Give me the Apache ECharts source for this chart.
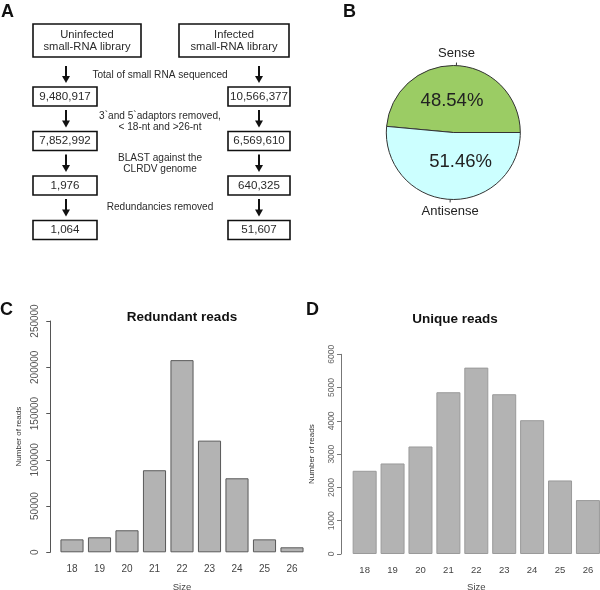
<!DOCTYPE html>
<html><head><meta charset="utf-8">
<script src="https://cdn.jsdelivr.net/npm/echarts@6/dist/echarts.min.js"></script>
<style>html,body{margin:0;padding:0;background:#fff}#c{width:600px;height:590px}</style>
</head><body><div id="c"></div>
<script>
// ---- data ----
const sizes = ['18','19','20','21','22','23','24','25','26'];
const redundantReads = [14000,16200,23800,88700,207700,120700,80000,14000,5400];
const uniqueReads = [2500,2720,3230,4860,5600,4800,4020,2210,1620];
const strandNames = ['Sense','Antisense'];
const strandPercents = [48.54, 51.46];
const libraryNames = ['Uninfected\nsmall-RNA library','Infected\nsmall-RNA library'];
const uninfectedCounts = ['9,480,917','7,852,992','1,976','1,064'];
const infectedCounts = ['10,566,377','6,569,610','640,325','51,607'];
const stepLabels = ['Total of small RNA sequenced','3`and 5`adaptors removed,\n< 18-nt and >26-nt','BLAST against the\nCLRDV genome','Redundancies removed'];
const redundantTicks = {min:0,max:250000,interval:50000};
const uniqueTicks = {min:0,max:6000,interval:1000};

// ---- layout ----
const FF = 'Liberation Sans, Arial, sans-serif';
const TXT = '#2a2a2a';
const rowCY = [96.5,141,185.5,230];
const boxH = 19;
const cols = [
  {big:{x:33,y:24,w:108,h:33}, x:33, w:64, cx:66, counts:uninfectedCounts},
  {big:{x:179,y:24,w:110,h:33}, x:228, w:62, cx:259, counts:infectedCounts}
];
const stepY = [75,121.5,164,207];
const graphics = [];
cols.forEach((c,ci)=>{
  graphics.push({type:'rect',shape:{x:c.big.x,y:c.big.y,width:c.big.w,height:c.big.h},style:{fill:'#fff',stroke:'#111',lineWidth:1.6}});
  graphics.push({type:'text',x:c.big.x+c.big.w/2,y:c.big.y+c.big.h/2,style:{text:libraryNames[ci],fill:TXT,font:'11.2px '+FF,textAlign:'center',textVerticalAlign:'middle',lineHeight:12}});
  c.counts.forEach((v,i)=>{
    const top = rowCY[i]-boxH/2;
    graphics.push({type:'rect',shape:{x:c.x,y:top,width:c.w,height:boxH},style:{fill:'#fff',stroke:'#111',lineWidth:1.6}});
    graphics.push({type:'text',x:c.x+c.w/2,y:rowCY[i],style:{text:v,fill:TXT,font:'11.6px '+FF,textAlign:'center',textVerticalAlign:'middle'}});
    const prevBottom = i===0 ? c.big.y+c.big.h : rowCY[i-1]+boxH/2;
    const y0 = prevBottom + (i===0?9:4);
    const tip = top - 4;
    graphics.push({type:'line',shape:{x1:c.cx,y1:y0,x2:c.cx,y2:tip-5},style:{stroke:'#111',lineWidth:2}});
    graphics.push({type:'polygon',shape:{points:[[c.cx-4,tip-7],[c.cx+4,tip-7],[c.cx,tip]]},style:{fill:'#111'}});
  });
});
stepLabels.forEach((s,i)=>{
  graphics.push({type:'text',x:160,y:stepY[i],style:{text:s,fill:TXT,font:'10.1px '+FF,textAlign:'center',textVerticalAlign:'middle',lineHeight:11}});
});
[['A',1,3],['B',343,3],['C',0,301],['D',306,301]].forEach(l=>{
  graphics.push({type:'text',x:l[1],y:l[2],style:{text:l[0],fill:'#111',font:'bold 18px '+FF}});
});

const chart = echarts.init(document.getElementById('c'),null,{renderer:'canvas'});
const pieCenter = [453.3,132.5];
chart.setOption({
  animation:false,
  textStyle:{fontFamily:FF},
  title:[
    {text:'Redundant reads',left:182,top:310,textAlign:'center',padding:0,textStyle:{fontSize:13.5,fontWeight:'bold',color:'#111',fontFamily:FF}},
    {text:'Unique reads',left:455,top:312,textAlign:'center',padding:0,textStyle:{fontSize:13.5,fontWeight:'bold',color:'#111',fontFamily:FF}}
  ],
  graphic:graphics,
  grid:[
    {left:58.25,width:247.5,top:321,bottom:37.7,containLabel:false,outerBoundsMode:'none'},
    {left:350.7,width:251.2,top:354.3,bottom:36,containLabel:false,outerBoundsMode:'none'}
  ],
  xAxis:[
    {gridIndex:0,type:'category',data:sizes,axisLine:{show:false},axisTick:{show:false},
     axisLabel:{fontSize:10,color:'#444',margin:12,fontFamily:FF},
     name:'Size',nameLocation:'middle',nameGap:30,nameTextStyle:{fontSize:9.5,color:'#444',fontFamily:FF}},
    {gridIndex:1,type:'category',data:sizes,axisLine:{show:false},axisTick:{show:false},
     axisLabel:{fontSize:9.5,color:'#444',margin:11,fontFamily:FF},
     name:'Size',nameLocation:'middle',nameGap:28.5,nameTextStyle:{fontSize:9.5,color:'#444',fontFamily:FF}}
  ],
  yAxis:[
    {gridIndex:0,type:'value',min:redundantTicks.min,max:redundantTicks.max,interval:redundantTicks.interval,offset:8,
     axisLine:{show:true,lineStyle:{color:'#555',width:1}},axisTick:{show:true,length:4,lineStyle:{color:'#555'}},
     splitLine:{show:false},
     axisLabel:{rotate:90,fontSize:10,color:'#555',margin:10,formatter:v=>String(v),fontFamily:FF},
     name:'Number of reads',nameLocation:'middle',nameGap:27,nameTextStyle:{fontSize:8,color:'#333',fontFamily:FF}},
    {gridIndex:1,type:'value',min:uniqueTicks.min,max:uniqueTicks.max,interval:uniqueTicks.interval,offset:9.7,
     axisLine:{show:true,lineStyle:{color:'#777',width:1}},axisTick:{show:true,length:4,lineStyle:{color:'#777'}},
     splitLine:{show:false},
     axisLabel:{rotate:90,fontSize:8.5,color:'#666',margin:5,formatter:v=>String(v),fontFamily:FF},
     name:'Number of reads',nameLocation:'middle',nameGap:25,nameTextStyle:{fontSize:8,color:'#333',fontFamily:FF}}
  ],
  series:[
    {type:'bar',xAxisIndex:0,yAxisIndex:0,data:redundantReads,barCategoryGap:'16%',
     itemStyle:{color:'#b3b3b3',borderColor:'#5a5a5a',borderWidth:1},silent:true},
    {type:'bar',xAxisIndex:1,yAxisIndex:1,data:uniqueReads,barCategoryGap:'14%',
     itemStyle:{color:'#b3b3b3',borderColor:'#9a9a9a',borderWidth:1},silent:true},
    {type:'pie',center:pieCenter,radius:67,startAngle:0,clockwise:false,avoidLabelOverlap:false,silent:true,
     data:strandNames.map((n,i)=>({name:n,value:strandPercents[i]})),
     color:['#9bcc64','#ccffff'],
     itemStyle:{borderColor:'#333',borderWidth:1},
     label:{position:'inside',formatter:p=>p.value.toFixed(2)+'%',fontSize:18.5,color:'#222',fontFamily:FF},
     labelLine:{show:false},
     labelLayout:p=>p.dataIndex===0?{dx:-3,dy:5}:{dx:9,dy:-7}},
    {type:'pie',center:pieCenter,radius:67,startAngle:0,clockwise:false,avoidLabelOverlap:false,silent:true,
     data:strandNames.map((n,i)=>({name:n,value:strandPercents[i]})),
     itemStyle:{color:'rgba(0,0,0,0)',borderWidth:0},
     label:{position:'outside',formatter:'{b}',fontSize:13,color:'#222',distanceToLabelLine:0,fontFamily:FF},
     labelLine:{show:true,length:3,length2:0,lineStyle:{color:'#333',width:1}},
     labelLayout:p=>({align:'center',verticalAlign:p.dataIndex===0?'bottom':'top',dy:p.dataIndex===0?-3:2})}
  ]
});
</script></body></html>
